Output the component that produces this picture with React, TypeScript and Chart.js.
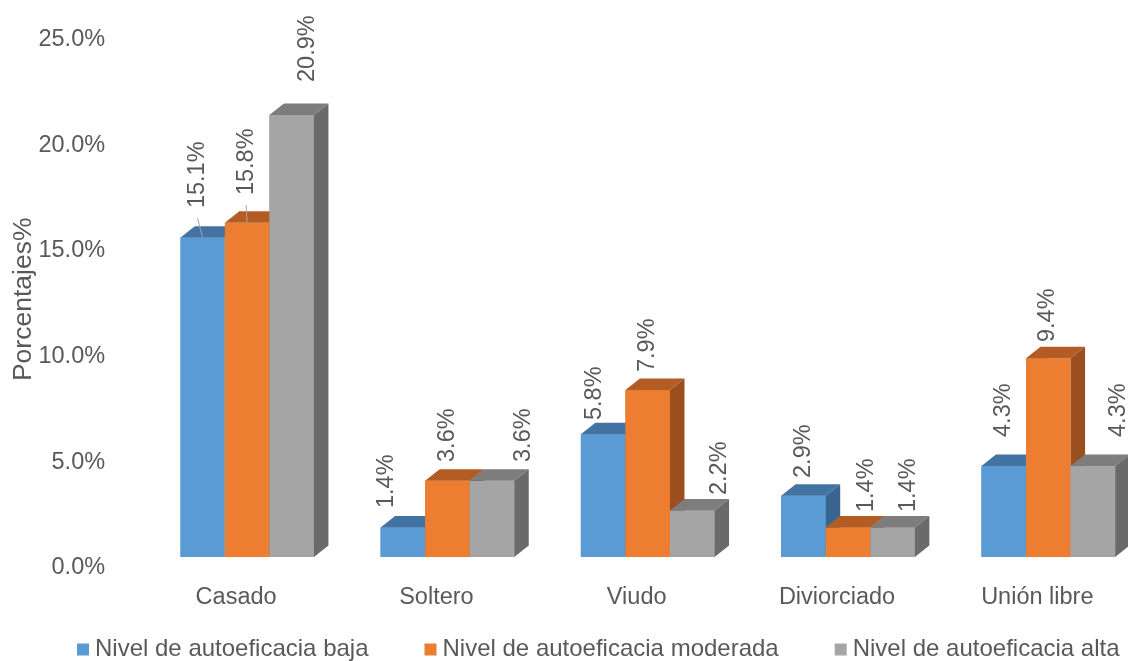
import React, { useEffect, useRef } from "react";
import { Chart, registerables } from "chart.js";

Chart.register(...registerables);

// ---- data ----
const categories = ["Casado", "Soltero", "Viudo", "Diviorciado", "Unión libre"];
const seriesNames = [
  "Nivel de autoeficacia baja",
  "Nivel de autoeficacia moderada",
  "Nivel de autoeficacia alta",
];
const baja = [15.1, 1.4, 5.8, 2.9, 4.3];
const moderada = [15.8, 3.6, 7.9, 1.4, 9.4];
const alta = [20.9, 3.6, 2.2, 1.4, 4.3];
const yTicks = [0, 5, 10, 15, 20, 25];
const yTitle = "Porcentajes%";

// ---- styles ----
const FONT = '"Liberation Sans", Arial, sans-serif';
const TEXT = "#595959";
const FRONT = ["#5B9BD5", "#ED7D31", "#A5A5A5"];
const TOP = ["#4273A3", "#B35D24", "#7D7D7D"];
const SIDE = ["#3A6591", "#9C4F1E", "#6A6A6A"];
const DEPTH_X = 14.5;
const DEPTH_Y = -11.5;

// label placement per series/category: [dx from bar centre, gap above bar top, leader line]
const labelPlacement = [
  [[-5, 29.6, 1], [-16, 19.4, 0], [-8.5, 14.3, 0], [0, 17.7, 0], [0, 29.1, 0]],
  [[-1, 27.8, 1], [0, 18.9, 0], [-0.5, 17.9, 0], [18.5, 15.4, 0], [-1, 16.2, 0]],
  [[16, 33, 0], [32, 18.9, 0], [27, 15.5, 0], [16, 15.4, 0], [26, 29.1, 0]],
];

const bars3d = {
  id: "bars3d",
  afterDatasetsDraw(chart: any) {
    const ctx = chart.ctx as CanvasRenderingContext2D;
    const nSeries = chart.data.datasets.length;
    ctx.save();
    for (let j = 0; j < categories.length; j++) {
      for (let i = 0; i < nSeries; i++) {
        const el = chart.getDatasetMeta(i).data[j];
        const { x, y, base, width } = el.getProps(["x", "y", "base", "width"], true);
        const l = x - width / 2;
        const r = x + width / 2;
        ctx.fillStyle = FRONT[i];
        ctx.fillRect(l, y, width, base - y);
        ctx.fillStyle = TOP[i];
        ctx.beginPath();
        ctx.moveTo(l, y);
        ctx.lineTo(l + DEPTH_X, y + DEPTH_Y);
        ctx.lineTo(r + DEPTH_X, y + DEPTH_Y);
        ctx.lineTo(r, y);
        ctx.closePath();
        ctx.fill();
        ctx.fillStyle = SIDE[i];
        ctx.beginPath();
        ctx.moveTo(r, y);
        ctx.lineTo(r + DEPTH_X, y + DEPTH_Y);
        ctx.lineTo(r + DEPTH_X, base + DEPTH_Y);
        ctx.lineTo(r, base);
        ctx.closePath();
        ctx.fill();
      }
    }
    // data labels
    ctx.font = `23.5px ${FONT}`;
    ctx.fillStyle = TEXT;
    ctx.textAlign = "left";
    ctx.textBaseline = "middle";
    for (let i = 0; i < nSeries; i++) {
      const values = chart.data.datasets[i].data as number[];
      for (let j = 0; j < categories.length; j++) {
        const el = chart.getDatasetMeta(i).data[j];
        const { x, y } = el.getProps(["x", "y"], true);
        const [dx, gap, leader] = labelPlacement[i][j];
        const lx = x + dx;
        const ly = y - gap;
        if (leader) {
          ctx.save();
          ctx.strokeStyle = "#A6A6A6";
          ctx.lineWidth = 1;
          ctx.beginPath();
          ctx.moveTo(lx, ly + 10);
          ctx.lineTo(x, y);
          ctx.stroke();
          ctx.restore();
        }
        ctx.save();
        ctx.translate(lx, ly);
        ctx.rotate(-Math.PI / 2);
        ctx.fillText(values[j].toFixed(1) + "%", 0, 0);
        ctx.restore();
      }
    }
    ctx.restore();
  },
  afterDraw(chart: any) {
    const ctx = chart.ctx as CanvasRenderingContext2D;
    ctx.save();
    // y axis title
    ctx.font = `26.5px ${FONT}`;
    ctx.fillStyle = TEXT;
    ctx.textAlign = "center";
    ctx.textBaseline = "middle";
    ctx.translate(24, chart.chartArea.top + 271);
    ctx.rotate(-Math.PI / 2);
    ctx.fillText(yTitle, 0, 0);
    ctx.restore();
    // legend
    ctx.save();
    ctx.font = `24px ${FONT}`;
    ctx.textBaseline = "middle";
    ctx.textAlign = "left";
    let lx = 77;
    const ly = 649;
    chart.data.datasets.forEach((ds: any, i: number) => {
      ctx.fillStyle = FRONT[i];
      ctx.fillRect(lx, ly - 5.5, 12, 12);
      ctx.fillStyle = TEXT;
      ctx.fillText(ds.label, lx + 18, ly);
      lx += 18 + ctx.measureText(ds.label).width + 56;
    });
    ctx.restore();
  },
};

export default function App() {
  const ref = useRef<HTMLCanvasElement>(null);
  useEffect(() => {
    if (!ref.current) return;
    const seriesData = [baja, moderada, alta];
    const chart = new Chart(ref.current, {
      type: "bar",
      data: {
        labels: categories,
        datasets: seriesData.map((d, i) => ({
          label: seriesNames[i],
          data: d,
          backgroundColor: FRONT[i],
          borderWidth: 0,
          categoryPercentage: 0.6675,
          barPercentage: 1,
        })),
      },
      options: {
        animation: false,
        responsive: false,
        devicePixelRatio: 1,
        layout: { padding: { top: 28.3, right: 79.7, left: 0, bottom: 0 } },
        plugins: {
          legend: { display: false },
          tooltip: { enabled: false },
          title: { display: false },
        },
        scales: {
          x: {
            offset: false,
            grid: { display: false, offset: false },
            border: { display: false },
            ticks: {
              color: TEXT,
              font: { family: FONT, size: 23.5 },
              padding: 18,
              labelOffset: -11,
              maxRotation: 0,
              autoSkip: false,
            },
            afterFit: (s: any) => {
              s.height = 104;
            },
          },
          y: {
            min: 0,
            max: 25,
            grid: { display: false },
            border: { display: false },
            ticks: {
              color: TEXT,
              font: { family: FONT, size: 23.5 },
              padding: 134,
              labelOffset: 11,
              callback: (v: any) => Number(v).toFixed(1) + "%",
            },
            afterBuildTicks: (s: any) => {
              s.ticks = yTicks.map((v) => ({ value: v }));
            },
            afterFit: (s: any) => {
              s.width = 247.1;
              s.paddingTop = 0;
              s.paddingBottom = 0;
            },
          },
        },
      },
      plugins: [bars3d],
    } as any);
    return () => chart.destroy();
  }, []);
  return (
    <div style={{ position: "absolute", left: 0, top: 0, width: 1128, height: 661, background: "#fff" }}>
      <canvas ref={ref} width={1128} height={661} style={{ display: "block", width: 1128, height: 661 }} />
    </div>
  );
}
